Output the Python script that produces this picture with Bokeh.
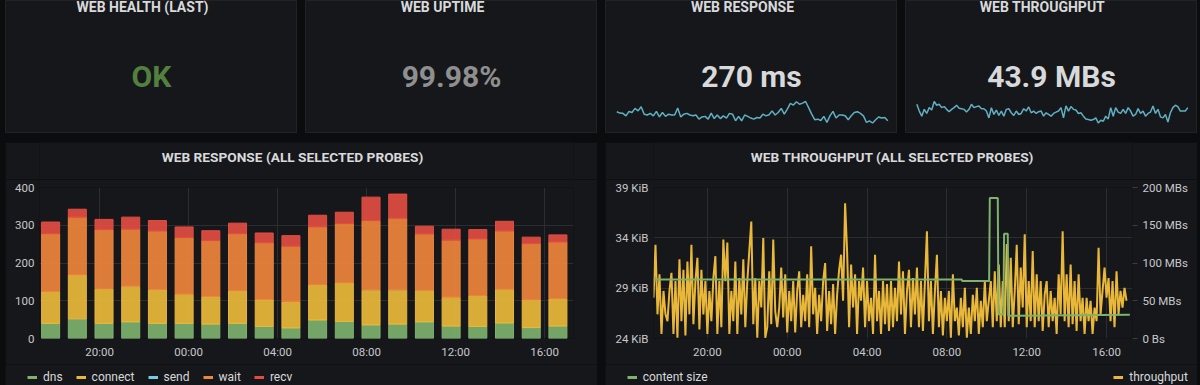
from bokeh.plotting import figure
from bokeh.layouts import row, column
from bokeh.models import (Range1d, LinearAxis, FixedTicker, Legend, LegendItem,
                          Spacer, ColumnDataSource, Label)
from bokeh.embed import file_html
from bokeh.resources import INLINE

PAGE_BG = "#0b0c0e"
PANEL_BG = "#16171b"
PANEL_BORDER = "#202226"
TEXT = "#d8d9da"
TICK = "#c7c8ca"
GRID = "#2b2d31"
FONT = "Roboto"

# ---------------- stat panels ----------------
stat_titles = ["WEB HEALTH (LAST)", "WEB UPTIME", "WEB RESPONSE", "WEB THROUGHPUT"]
stat_values = ["OK", "99.98%", "270 ms", "43.9 MBs"]
stat_colors = ["#54803f", "#8f8f8f", TEXT, TEXT]

resp_spark_ms = [303, 298, 297, 288, 304, 300, 315, 306, 321, 294, 291, 297, 288, 304, 284, 300,
                 286, 294, 291, 291, 316, 284, 294, 297, 291, 288, 291, 276, 284, 286, 276, 298,
                 278, 291, 278, 288, 280, 297, 294, 270, 286, 270, 291, 286, 280, 276, 282, 280,
                 294, 288, 292, 306, 291, 300, 315, 294, 312, 333, 327, 339, 330, 334, 340, 318,
                 294, 274, 276, 271, 286, 264, 288, 304, 280, 291, 291, 288, 274, 288, 300, 303,
                 297, 288, 264, 270, 262, 274, 284, 280, 282, 270]

thr_spark_mbs = [48.9, 38.9, 31.4, 41.4, 35.4, 43.9, 40.4, 52.9, 47.4, 48.9, 43.9, 45.4, 41.4, 37.9,
                 41.4, 43.9, 47.4, 42.9, 42.4, 41.4, 37.4, 41.4, 48.9, 43.9, 45.4, 46.4, 42.4, 42.4,
                 38.9, 28.9, 43.9, 33.9, 40.4, 32.4, 38.9, 31.4, 41.4, 42.4, 36.4, 32.4, 38.9, 33.9,
                 35.4, 42.4, 38.9, 44.9, 36.4, 38.9, 35.4, 37.9, 38.9, 31.4, 36.4, 33.9, 31.4, 35.4,
                 37.4, 38.9, 43.9, 28.9, 46.4, 38.9, 45.4, 41.4, 40.4, 35.4, 36.4, 31.4, 27.4, 26.4,
                 25.4, 26.4, 28.9, 21.4, 25.4, 23.9, 31.4, 27.4, 43.9, 31.4, 43.9, 37.4, 35.4, 41.4,
                 35.4, 43.9, 38.9, 31.4, 33.9, 42.4, 35.4, 38.9, 31.4, 35.4, 37.4, 46.4, 35.4, 41.4,
                 30.4, 28.9, 33.9, 22.9, 36.4, 43.9, 47.4, 45.4, 38.9, 38.9, 38.9, 43.9]

# ---------------- web response bars ----------------
bar_time = ["17:48", "19:00", "20:12", "21:24", "22:36", "23:48", "01:00", "02:12", "03:24", "04:36",
            "05:48", "07:00", "08:12", "09:24", "10:36", "11:48", "13:00", "14:12", "15:24", "16:36"]
dns = [40, 52, 40, 44, 40, 40, 38, 40, 32, 28, 49, 45, 36, 38, 44, 33, 32, 41, 29, 33]
connect = [84, 116, 91, 94, 89, 77, 73, 86, 71, 69, 93, 102, 92, 90, 83, 76, 81, 89, 73, 72]
send = [0.5, 0.5, 0.5, 0.5, 0.5, 0.5, 0.5, 0.5, 0.5, 0.5, 0.5, 0.5, 0.5, 0.5, 0.5, 0.5, 0.5, 0.5,
        0.5, 0.5]
wait = [153, 153, 157, 151, 155, 150, 148, 151, 150, 147, 153, 157, 184, 190, 149, 151, 150, 154, 149, 150]
recv = [31, 21, 27, 32, 28, 28, 26, 28, 26, 28, 31, 30, 62, 64, 21, 29, 25, 26, 17, 19]
bar_series = ["dns", "connect", "send", "wait", "recv"]
bar_colors = ["#7EB26D", "#EAB839", "#6ED0E0", "#EF843C", "#E24D42"]

resp_ticks = [0, 100, 200, 300, 400]

# ---------------- web throughput ----------------
thr_start = "17:18"
thr_step_min = 6
thr_mbs = [54, 124, 32, 85, 6, 63, 32, 23, 63, 87, 6, 76, 1, 105, 23, 91, 4, 102, 32, 124, 19, 76, 107,
           12, 91, 32, 76, 6, 63, 23, 80, 109, 6, 76, 15, 131, 76, 127, 6, 63, 23, 102, 6, 80, 32, 105,
           15, 76, 116, 155, 19, 80, 1, 76, 41, 133, 1,
           15, 89, 19, 131, 36, 15, 41, 94, 28, 85, 8, 63, 23, 76, 8, 63, 89, 15, 58, 23, 85, 15, 122,
           32, 67, 6, 58, 23, 76, 100, 10, 63, 19, 72, 6, 58, 91, 111, 50, 179, 116, 15, 98, 41, 85, 6,
           76, 50, 94, 15, 76, 23, 54, 6, 111, 23, 63, 6, 76,
           19, 72, 10, 76, 15, 67, 23, 102, 32, 89, 6, 63, 91, 15, 80, 32, 94, 15, 76, 10, 76, 142, 23,
           76, 6, 63, 111, 15, 63, 4, 54, 23, 63, 1, 85, 23, 41, 4, 54, 15, 67, 1, 41, 6, 58, 23, 67, 6,
           50, 15, 76, 23, 50, 76, 15, 89, 23, 98, 15, 76,
           15, 125, 23, 107, 15, 63, 124, 19, 94, 41, 138, 15, 76, 23, 116, 15, 85, 23, 76, 10, 58, 76,
           15, 63, 23, 54, 6, 85, 32, 142, 23, 85, 15, 98, 19, 76, 10, 85, 23, 54, 6, 54, 23, 50, 6, 41,
           23, 120, 32, 63, 94, 54, 80, 23, 76, 15, 89, 32, 63, 41, 67, 50]

cs_time = ["17:18", "08:45", "08:46", "10:07", "10:09", "10:33", "10:35", "10:50", "10:52",
           "11:03", "11:05", "17:10"]
cs_kib = [29.85, 29.85, 29.7, 29.7, 37.95, 37.95, 26.4, 26.4, 34.4, 34.4, 26.25, 26.35]

kib_ticks = [24, 29, 34, 39]
kib_labels = ["24 KiB", "29 KiB", "34 KiB", "39 KiB"]
mbs_ticks = [0, 50, 100, 150, 200]
mbs_labels = ["0 Bs", "50 MBs", "100 MBs", "150 MBs", "200 MBs"]

time_ticks = [20, 24, 28, 32, 36, 40]
time_labels = ["20:00", "00:00", "04:00", "08:00", "12:00", "16:00"]
time_window = (17.3, 41.3)


def hours(hhmm):
    h, m = hhmm.split(":")
    v = int(h) + int(m) / 60.0
    return v + 24 if v < 17.25 else v


def blank_fig(w, h, x_range=None):
    p = figure(width=w, height=h, x_range=x_range or Range1d(0, w), y_range=Range1d(0, h),
               toolbar_location=None, output_backend="svg", min_border=0,
               x_axis_location=None, y_axis_location=None, title=None,
               background_fill_color=PANEL_BG, border_fill_color=PANEL_BG,
               outline_line_color=None)
    p.grid.visible = False
    return p


# ---------------- builders ----------------
def stat_panel(title, val, color, spark=None, w=292, h=133):
    p = blank_fig(w, h)
    p.outline_line_color = PANEL_BORDER
    p.add_layout(Label(x=w / 2 - 9, y=h - 6, text=title, text_font=FONT, text_font_size="14px",
                       text_font_style="bold", text_color=TEXT, text_align="center",
                       text_baseline="middle"))
    p.add_layout(Label(x=w / 2, y=h - 76, text=val, text_font=FONT, text_font_size="30px",
                       text_font_style="bold", text_color=color, text_align="center",
                       text_baseline="middle"))
    if spark is not None:
        n = len(spark)
        left, right, bot, top = 11.3, 9.7, 10.5, 32.0
        kx = (n - 1) / (w - left - right)
        vmin, vmax = min(spark), max(spark)
        ky = (vmax - vmin) / (top - bot)
        p.extra_x_ranges = {"i": Range1d(-left * kx, (n - 1) + right * kx)}
        p.extra_y_ranges = {"v": Range1d(vmin - bot * ky, vmax + (h - top) * ky)}
        p.line(list(range(n)), spark, x_range_name="i", y_range_name="v",
               line_color="#5fb0c3", line_width=1.5)
    return p


def header_fig(text, border_l, border_r, w=592, h=37):
    # this strip's frame gets aligned with the chart frame below it
    p = blank_fig(w, h, x_range=Range1d(border_l, w - border_r))
    p.add_layout(Label(x=w / 2 - 9, y=h - 14, text=text, text_font=FONT, text_font_size="13.7px",
                       text_font_style="bold", text_color=TEXT, text_align="center",
                       text_baseline="middle"))
    return p


def chart_fig(y_range, border_l, border_r):
    p = figure(width=592, height=185, x_range=Range1d(*time_window), y_range=y_range,
               toolbar_location=None, output_backend="svg", title=None,
               background_fill_color=PANEL_BG, border_fill_color=PANEL_BG, outline_line_color=None,
               min_border_left=border_l, min_border_right=border_r,
               min_border_top=8, min_border_bottom=26)
    p.axis.axis_line_color = None
    p.axis.major_tick_line_color = None
    p.axis.minor_tick_line_color = None
    p.axis.major_tick_out = 0
    p.axis.major_tick_in = 0
    p.axis.major_label_text_color = TICK
    p.axis.major_label_text_font = FONT
    p.axis.major_label_text_font_size = "11.5px"
    p.xaxis.major_label_standoff = 6
    p.yaxis.major_label_standoff = 5
    p.xaxis.ticker = FixedTicker(ticks=time_ticks)
    p.xaxis.major_label_overrides = dict(zip(time_ticks, time_labels))
    p.grid.grid_line_color = GRID
    p.grid.grid_line_width = 1
    return p


def legend_fig(groups, w=592, h=21):
    p = blank_fig(w, h)
    for entries, loc in groups:
        items = []
        for label, xs, ys, color in entries:
            # hidden copy of the series: only supplies the legend's line dash
            r = p.line(xs, ys, line_color=color, line_width=3, visible=False)
            items.append(LegendItem(label=label, renderers=[r]))
        p.add_layout(Legend(items=items, orientation="horizontal", location=loc,
                            background_fill_alpha=0, border_line_color=None,
                            label_text_color=TEXT, label_text_font=FONT,
                            label_text_font_size="12px",
                            glyph_width=10, glyph_height=14, label_height=14, label_width=0,
                            label_standoff=6, spacing=13, padding=0, margin=0))
    return p


# ---------------- top row ----------------
sparks = [None, None, resp_spark_ms, thr_spark_mbs]
stats = [stat_panel(t, v, c, s) for t, v, c, s in zip(stat_titles, stat_values, stat_colors, sparks)]

# ---------------- response bars ----------------
bar_t = [hours(s) for s in bar_time]
bar_src = ColumnDataSource(dict(t=bar_t, dns=dns, connect=connect, send=send, wait=wait, recv=recv))
p1 = chart_fig(Range1d(0, 400), 34, 24)
p1.vbar_stack(bar_series, x="t", width=0.81, source=bar_src, fill_color=bar_colors,
              line_color=bar_colors, line_alpha=[1, 1, 0, 1, 1], fill_alpha=0.92)
p1.yaxis.ticker = FixedTicker(ticks=resp_ticks)

# ---------------- throughput ----------------
h0 = hours(thr_start)
thr_t = [h0 + i * thr_step_min / 60.0 for i in range(len(thr_mbs))]
cs_t = [hours(s) for s in cs_time]
p2 = chart_fig(Range1d(24, 39), 48, 65)
p2.extra_y_ranges = {"mbs": Range1d(0, 200)}
p2.line(thr_t, thr_mbs, y_range_name="mbs", line_color="#EAB839", line_width=2)
p2.line(cs_t, cs_kib, line_color="#7EB26D", line_width=2)
raxis = LinearAxis(y_range_name="mbs", ticker=FixedTicker(ticks=mbs_ticks),
                   major_label_overrides=dict(zip(mbs_ticks, mbs_labels)),
                   axis_line_color=None, minor_tick_line_color=None,
                   major_tick_in=0, major_tick_out=5, major_tick_line_color="#3a3c40",
                   major_label_standoff=5, major_label_text_color=TICK,
                   major_label_text_font=FONT, major_label_text_font_size="11.5px")
p2.add_layout(raxis, "right")
p2.yaxis[0].ticker = FixedTicker(ticks=kib_ticks)
p2.yaxis[0].major_label_overrides = dict(zip(kib_ticks, kib_labels))

series_by_name = dict(dns=dns, connect=connect, send=send, wait=wait, recv=recv)
leg5 = legend_fig([([(n, bar_t, series_by_name[n], c) for n, c in zip(bar_series, bar_colors)],
                    (22, 1))])
leg6 = legend_fig([([("content size", cs_t, cs_kib, "#7EB26D")], (21.7, 1)),
                   ([("throughput", thr_t, thr_mbs, "#EAB839")], (508.3, 1))])

# ---------------- layout ----------------
top = row(Spacer(width=5, height=133), stats[0], Spacer(width=8, height=133), stats[1],
          Spacer(width=8, height=133), stats[2], Spacer(width=8, height=133), stats[3])
charts = row(Spacer(width=5, height=222),
             column(header_fig("WEB RESPONSE (ALL SELECTED PROBES)", 34, 24), p1),
             Spacer(width=8, height=222),
             column(header_fig("WEB THROUGHPUT (ALL SELECTED PROBES)", 48, 65), p2))
legends = row(Spacer(width=5, height=21), leg5, Spacer(width=8, height=21), leg6)
root = column(top, Spacer(width=1197, height=9), charts, legends,
              styles={"background-color": PAGE_BG})

TEMPLATE = """
{% block postamble %}
<style>
html, body { margin: 0 !important; padding: 0 !important; background: #0b0c0e !important; overflow: hidden; }
</style>
{% endblock %}
"""

open("out.html", "w").write(file_html(root, INLINE, template=TEMPLATE))
